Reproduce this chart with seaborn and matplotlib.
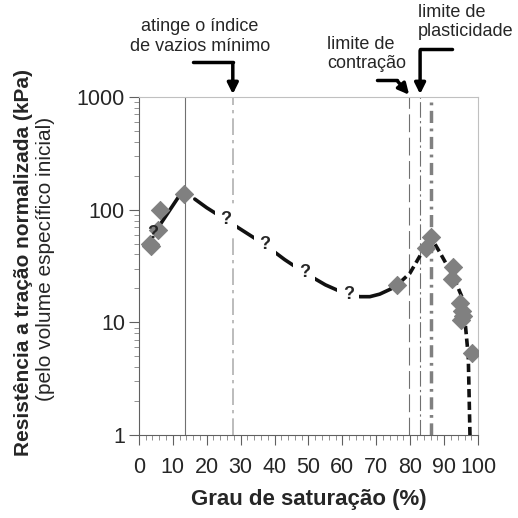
import numpy as np
import pandas as pd
import seaborn as sns
import matplotlib.pyplot as plt
from matplotlib.ticker import FixedLocator, NullFormatter, MultipleLocator

# Pontos medidos (grau de saturação %, resistência kPa)
sat_pts = [3.2, 3.5, 5.7, 6.2, 13.4, 76.2, 84.7, 86.1, 92.7, 92.4, 94.7, 95.2, 95.0, 95.5, 98.3]
res_pts = [49.5, 48.0, 66.0, 100.0, 138.0, 21.5, 46.0, 57.0, 31.0, 24.0, 14.8, 12.5, 10.5, 11.5, 5.4]

# Curva de tendência: trecho inicial (interrompido pelo "?"), trecho contínuo e trecho tracejado
curve1a_x = [2.3, 3.0]
curve1a_y = [48.6, 52.7]
curve1b_x = [5.5, 12.1]
curve1b_y = [68.0, 135.0]
curve2_x = [16.5, 20, 25.7, 30, 37.2, 43, 48.8, 55, 61.7, 65.2, 68.1, 71, 74]
curve2_y = [124, 104, 81, 67, 48.7, 36, 27.6, 21.5, 17.5, 16.9, 16.9, 17.8, 19.6]
curve3_x = [74, 76.2, 79.9, 83.9, 86.1, 88.8, 92.7, 95.2, 96.2, 97.1, 97.6]
curve3_y = [19.6, 21.5, 27.3, 44, 57, 41.3, 25.5, 16.9, 9.8, 5.0, 1.0]

# Pontos de interrogação
q_x = [4.2, 25.7, 37.2, 48.8, 61.7]
q_y = [61.6, 81, 48.7, 27.6, 17.5]


def above_top(px):
    # valor em y a 'px' pixels acima do topo do eixo (escala log)
    return 1000 * 10 ** (px / 112.7)


sns.set_style("ticks")
plt.rcParams['font.family'] = ['Liberation Sans', 'DejaVu Sans']

fig = plt.figure(figsize=(5.18, 5.18), dpi=100)
ax = fig.add_axes([0.268, 0.160, 0.655, 0.653])

# linhas verticais de referência
ax.axvline(13.6, color='#707070', lw=0.8, ls='-', zorder=1)
ax.axvline(27.7, color='#b0b0b0', lw=1.2, ls=(0, (10, 3, 2, 3)), zorder=1)
ax.axvline(79.6, color='#707070', lw=0.8, ls=(0, (16, 5)), zorder=1)
ax.axvline(82.9, color='#707070', lw=0.8, ls=(0, (14, 3, 2, 3)), zorder=1)
ax.axvline(86.1, color='#808080', lw=2.5, ls=(0, (3.5, 1.6, 0.8, 1.6)), zorder=1)

for cx, cy in [(curve1a_x, curve1a_y), (curve1b_x, curve1b_y), (curve2_x, curve2_y)]:
    sns.lineplot(x=cx, y=cy, ax=ax, color='#111111', lw=2.6, sort=False, zorder=3)
sns.lineplot(x=curve3_x, y=curve3_y, ax=ax, color='#111111', lw=2.6, sort=False, zorder=3,
             linestyle=(0, (2.3, 1.2)))

pts = pd.DataFrame({'x': sat_pts, 'y': res_pts})
sns.scatterplot(data=pts, x='x', y='y', ax=ax, marker='D', s=85, color='#808080',
                edgecolor='#808080', zorder=4)

for i, (qx, qy) in enumerate(zip(q_x, q_y)):
    if i == 0:
        ax.text(qx, qy, '?', fontsize=13, fontweight='bold', ha='center', va='center', zorder=5)
    else:
        ax.text(qx, qy, '?', fontsize=13, fontweight='bold', ha='center', va='center', zorder=5,
                bbox=dict(boxstyle='square,pad=0.3', fc='white', ec='none'))

ax.set_yscale('log')
ax.set_xlim(0, 100)
ax.set_ylim(1, 1000)
ax.set_yticks([1, 10, 100, 1000])
ax.set_yticklabels(['1', '10', '100', '1000'])
ax.yaxis.set_minor_locator(FixedLocator([m * 10 ** e for e in range(0, 3) for m in range(2, 10)]))
ax.yaxis.set_minor_formatter(NullFormatter())
ax.xaxis.set_major_locator(MultipleLocator(10))
ax.xaxis.set_minor_locator(MultipleLocator(2))
ax.tick_params(axis='both', which='major', labelsize=15.5, length=7, width=0.8, color='#606060')
ax.tick_params(axis='x', which='major', pad=9)
ax.tick_params(axis='y', which='major', pad=3)
ax.tick_params(axis='both', which='minor', length=3.5, width=0.6, color='#808080')

for s in ['top', 'right']:
    ax.spines[s].set_color('#c0c0c0')
for s in ['left', 'bottom']:
    ax.spines[s].set_color('#606060')

ax.set_xlabel('Grau de saturação (%)', fontsize=16, fontweight='bold', labelpad=8)
ax.set_ylabel('')
fig.text(0.046, 0.494, 'Resistência a tração normalizada (kPa)', rotation=90, fontsize=15,
         fontweight='bold', ha='center', va='center')
fig.text(0.087, 0.50, '(pelo volume específico inicial)', rotation=90, fontsize=15,
         ha='center', va='center')

# anotações com setas
arrow_kw = dict(color='black', lw=2.5)
head = dict(arrowstyle='-|>', color='black', lw=2.5, mutation_scale=16)

ax.text(18.0, above_top(60.5), 'atinge o índice\nde vazios mínimo', fontsize=13,
        ha='center', va='center', clip_on=False)
ax.plot([15.9, 27.7], [above_top(35)] * 2, clip_on=False, **arrow_kw)
ax.annotate('', xy=(27.7, 1000), xytext=(27.7, above_top(36)),
            arrowprops=head, annotation_clip=False)

ax.text(55.5, above_top(43), 'limite de\ncontração', fontsize=13,
        ha='left', va='center', clip_on=False)
ax.plot([70.2, 76.1], [above_top(17)] * 2, clip_on=False, **arrow_kw)
ax.annotate('', xy=(80.2, above_top(0)), xytext=(75.8, above_top(17.5)),
            arrowprops=head, annotation_clip=False)

ax.text(82.3, above_top(75), 'limite de\nplasticidade', fontsize=13,
        ha='left', va='center', clip_on=False)
ax.plot([82.9, 92.3], [above_top(48)] * 2, clip_on=False, **arrow_kw)
ax.annotate('', xy=(82.9, above_top(0)), xytext=(82.9, above_top(49)),
            arrowprops=head, annotation_clip=False)

fig.savefig('out.png', dpi=100, facecolor='white')
